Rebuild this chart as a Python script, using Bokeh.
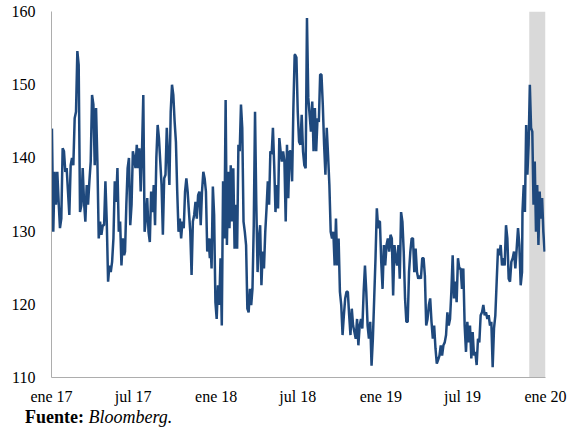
import pandas as pd
from bokeh.plotting import figure
from bokeh.models import Range1d, FixedTicker, BoxAnnotation, CustomJSTickFormatter, Div
from bokeh.layouts import column
from bokeh.embed import file_html
from bokeh.resources import INLINE

# ---- data ----
seg1_start, seg1_end = "2017-01-02", "2017-06-11"
seg1 = [144.0, 129.9, 138.1, 133.6, 138.1, 134.0, 130.4, 131.7, 141.3, 140.9, 138.1, 138.6, 135.4, 132.2,
        139.0, 140.0, 139.0, 145.4, 146.3, 154.6, 152.7, 132.6, 133.5, 138.6, 134.0, 131.3, 136.3,
        133.6, 136.8, 139.5, 148.6, 147.3, 139.0, 146.8, 139.5, 129.0, 131.3, 129.5, 130.8, 130.8,
        136.8, 131.3, 123.1, 125.3, 124.4, 125.8, 129.0, 136.8, 134.0, 138.6, 129.9, 131.3, 125.3,
        129.0, 126.7]

seg2_start, seg2_end = "2017-06-13", "2017-12-18"
seg2 = [127.2, 133.6, 138.6, 140.0, 130.8, 133.6, 140.9, 140.0, 138.6, 141.8, 138.6, 141.3, 135.4,
        140.9, 148.6, 129.9, 131.7, 134.5, 129.9, 128.5, 135.4, 132.6, 136.3, 130.8, 140.0, 144.5,
        142.7, 139.5, 136.3, 129.5, 137.2, 137.7, 144.1, 140.0, 136.3, 146.3, 150.0, 148.6, 145.0,
        142.2, 135.4, 129.9, 131.7, 129.0, 131.3, 130.4, 135.4, 137.2, 135.4, 132.6, 129.9, 124.0,
        131.3, 132.2, 134.0, 131.7, 134.9, 135.4, 130.8, 135.4, 138.1, 137.2, 135.4, 127.2, 129.0,
        126.3]

seg3_start, seg3_end = "2017-12-19", "2018-06-24"
seg3 = [129.0, 124.9, 136.1, 132.2, 120.3, 118.0, 122.6, 119.9, 126.3, 117.1, 136.8, 129.0, 147.9,
        128.1, 138.1, 130.4, 139.0, 131.3, 138.6, 127.6, 133.6, 127.6, 141.8, 140.9, 147.3, 144.1,
        131.3, 129.9, 128.1, 119.4, 118.9, 122.1, 119.9, 122.1, 130.8, 146.3, 133.6, 124.4, 129.0,
        130.8, 122.6, 127.2, 124.9, 129.9, 133.1, 136.8, 133.6, 140.9, 140.5, 144.1, 139.0, 132.6,
        136.3, 133.1, 142.7, 140.9, 139.5, 140.9, 139.5, 131.3, 141.8, 134.5, 140.9, 140.9, 136.8,
        146.8, 154.1]

seg4_start, seg4_end = "2018-06-25", "2018-12-29"
seg4 = [154.1, 153.7, 146.3, 142.2, 141.8, 145.9, 140.9, 139.0, 138.6, 159.1, 148.2, 145.9, 143.6,
        147.7, 140.9, 146.8, 140.9, 145.4, 144.9, 151.4, 151.4, 147.3, 141.8, 137.7, 144.1, 140.4,
        136.3, 129.9, 129.0, 129.9, 125.3, 131.7, 125.3, 129.0, 121.7, 119.9, 115.8, 118.5, 120.8,
        121.7, 121.7, 118.5, 115.8, 119.4, 117.1, 116.2, 115.3, 118.0, 114.4, 117.1, 118.0, 116.7,
        121.7, 125.3, 121.7, 117.1, 115.3, 117.6, 111.6, 115.3, 120.8, 126.3, 133.1, 130.4, 131.3]

seg5_start, seg5_end = "2018-12-30", "2019-06-21"
seg5 = [131.3, 125.8, 122.1, 128.1, 125.3, 128.1, 129.0, 127.2, 129.5, 129.0, 121.2, 128.1, 126.3,
        125.3, 128.1, 123.5, 132.6, 131.3, 127.2, 120.8, 117.6, 117.6, 124.4, 127.2, 129.0, 129.0,
        124.4, 127.6, 124.4, 123.5, 123.9, 123.5, 126.3, 126.3, 123.9, 117.1, 118.0, 119.9, 120.8,
        117.6, 115.3, 117.1, 114.0, 111.9, 112.4, 113.0, 114.4, 113.0, 114.4, 114.8, 115.8, 118.9,
        117.1, 118.0, 121.7, 126.7, 120.8, 123.1, 120.3, 126.3]

seg6_start, seg6_end = "2019-06-24", "2019-11-10"
seg6 = [124.9, 124.9, 122.1, 124.9, 117.1, 113.5, 117.6, 114.8, 117.1, 112.6, 116.2, 113.0, 113.5,
        111.7, 115.3, 114.8, 118.5, 118.9, 119.9, 118.5, 118.9, 118.0, 118.5, 117.1, 117.6, 111.4,
        116.7, 118.5, 123.1, 127.6, 126.7, 128.1, 125.3, 126.3, 125.3, 130.8, 129.0, 123.5, 123.1,
        125.8, 126.3, 127.2, 124.9, 127.6, 130.4, 128.1, 122.6, 124.4]

seg7_start, seg7_end = "2019-11-11", "2019-12-30"
seg7 = [132.6, 136.3, 132.6, 144.5, 137.7, 141.8, 150.0, 144.1, 143.6, 133.6, 139.5, 129.9, 136.3,
        128.1, 135.4, 131.7, 134.5, 129.9, 127.2]

shade_start, shade_end = "2019-11-26", "2020-01-01"

x_ticks = ["2017-01-01", "2017-07-01", "2018-01-01", "2018-07-01", "2019-01-01", "2019-07-01", "2020-01-01"]
x_tick_labels = ["ene 17", "jul 17", "ene 18", "jul 18", "ene 19", "jul 19", "ene 20"]
y_ticks = [110, 120, 130, 140, 150, 160]

source_bold = "Fuente:"
source_italic = "Bloomberg."

# ---- build series ----
segments = [(seg1_start, seg1_end, seg1), (seg2_start, seg2_end, seg2), (seg3_start, seg3_end, seg3),
            (seg4_start, seg4_end, seg4), (seg5_start, seg5_end, seg5), (seg6_start, seg6_end, seg6),
            (seg7_start, seg7_end, seg7)]
dates, vals = [], []
for s, e, v in segments:
    dates.extend(pd.date_range(s, e, periods=len(v)))
    vals.extend(v)


def ms(d):
    return pd.Timestamp(d).value / 1e6


tick_ms = [ms(d) for d in x_ticks]

p = figure(width=573, height=408, x_axis_type="datetime", output_backend="svg", toolbar_location=None,
           min_border_left=51, min_border_right=28, min_border_top=11, min_border_bottom=31)
p.x_range = Range1d(ms("2017-01-01"), ms("2020-01-01") + 3600 * 1000)
p.y_range = Range1d(110, 160)
p.outline_line_color = None
p.xgrid.grid_line_color = None
p.ygrid.grid_line_color = None
p.background_fill_color = "white"
p.border_fill_color = "white"

p.add_layout(BoxAnnotation(left=ms(shade_start), right=ms(shade_end), fill_color="#D9D9D9", fill_alpha=1.0,
                           line_color=None, level="underlay"))

p.line(dates, vals, line_color="#1F497D", line_width=2.5)

axis_color = "#ADADAD"
for ax in (p.xaxis[0], p.yaxis[0]):
    ax.axis_line_color = axis_color
    ax.axis_line_width = 1
    ax.major_tick_line_color = None
    ax.minor_tick_line_color = None
    ax.major_label_text_font = "Liberation Serif"
    ax.major_label_text_font_size = "16px"
    ax.major_label_text_color = "black"

p.yaxis.ticker = FixedTicker(ticks=y_ticks)
p.yaxis.major_label_standoff = 10
p.xaxis.ticker = FixedTicker(ticks=tick_ms)
p.xaxis.major_label_standoff = 4
p.xaxis.formatter = CustomJSTickFormatter(args=dict(tvals=tick_ms, tlabels=x_tick_labels), code="""
let best = 0, bd = Infinity;
for (let i = 0; i < tvals.length; i++) {
  const d = Math.abs(tvals[i] - tick);
  if (d < bd) { bd = d; best = i; }
}
return tlabels[best];
""")

source = Div(text=f"<b>{source_bold}</b> <i>{source_italic}</i>", width=573, height=21,
             styles={"font-family": "Liberation Serif", "font-size": "18px", "line-height": "8px",
                     "padding-left": "20px", "color": "black", "box-sizing": "border-box"})

layout = column(p, source, spacing=0)
open("out.html", "w").write(file_html(layout, INLINE))
